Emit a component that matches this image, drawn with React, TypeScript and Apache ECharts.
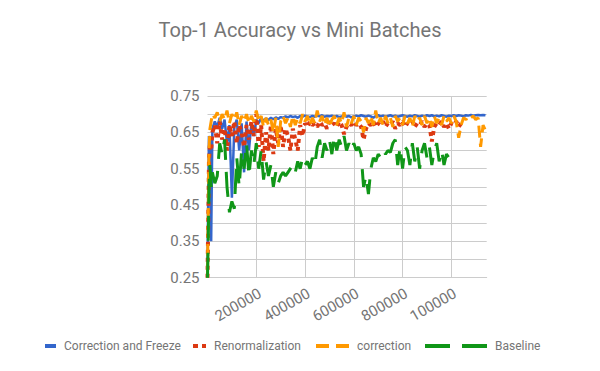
import React, { useEffect, useRef } from "react";
import * as echarts from "echarts";

const titleText = "Top-1 Accuracy vs Mini Batches";
const seriesNames = ["Correction and Freeze", "Renormalization", "correction", "Baseline"];
const seriesColors = ["#3366cc", "#dc3912", "#ff9900", "#109618"];

// mini batches, in thousands
const stepsK = [0, 3, 6, 10, 15, 20,
  30, 40, 50, 60, 70, 80, 90, 100, 110, 120, 130, 140, 150, 160, 170, 180, 190, 200,
  210, 220, 230, 240, 250, 260, 270, 280, 290, 300,
  310, 320, 330, 340, 350, 360, 370, 380, 390, 400,
  410, 420, 430, 440, 450, 460, 470, 480, 490, 500,
  510, 520, 530, 540, 550, 560, 570, 580, 590, 600,
  610, 620, 630, 640, 650, 660, 670, 680, 690, 700,
  710, 720, 730, 740, 750, 760, 770, 780, 790, 800,
  810, 820, 830, 840, 850, 860, 870, 880, 890, 900,
  910, 920, 930, 940, 950, 960, 970, 980, 990, 1000,
  1010, 1020, 1030, 1040, 1050, 1060, 1070, 1080, 1090, 1100,
  1110, 1120, 1130, 1140];

const correctionFreeze = [0.27, 0.48, 0.64, 0.63, 0.35, 0.66,
  0.68, 0.665, 0.69, 0.66, 0.685, 0.62, 0.67, 0.47, 0.665, 0.685, 0.6, 0.675, 0.54, 0.68, 0.6, 0.675, 0.64, 0.685,
  0.675, 0.69, 0.682, 0.688, 0.684, 0.69, 0.686, 0.691, 0.687, 0.692,
  0.69, 0.694, 0.691, 0.695, 0.692, 0.694, 0.69, 0.695, 0.693, 0.696,
  0.694, 0.692, 0.695, 0.693, 0.696, 0.694, 0.697, 0.693, 0.695, 0.694,
  0.696, 0.693, 0.695, 0.692, 0.694, 0.696, 0.693, 0.695, 0.691, 0.694,
  0.696, 0.694, 0.697, 0.695, 0.693, 0.696, 0.694, 0.69, 0.695, 0.697,
  0.694, 0.696, 0.693, 0.695, 0.697, 0.694, 0.696, 0.693, 0.695, 0.697,
  0.695, 0.693, 0.696, 0.694, 0.697, 0.695, 0.693, 0.696, 0.694, 0.697,
  0.695, 0.697, 0.694, 0.696, 0.694, 0.697, 0.695, 0.693, 0.696, 0.695,
  0.697, 0.695, 0.697, 0.696, 0.694, 0.697, 0.696, 0.698, 0.696, 0.697,
  0.698, 0.697, 0.698, 0.697];

const renormalization = [0.25, 0.4, 0.57, 0.62, 0.6, 0.65,
  0.67, 0.62, 0.68, 0.63, 0.66, 0.6, 0.67, 0.64, 0.68, 0.62, 0.67, 0.65, 0.61, 0.67, 0.63, 0.68, 0.64, 0.7,
  0.61, 0.67, 0.57, 0.65, 0.6, 0.67, 0.59, 0.66, 0.62, 0.67,
  0.61, 0.66, 0.64, 0.6, 0.66, 0.63, 0.6, 0.67, 0.64, 0.675,
  0.665, 0.68, 0.67, 0.675, 0.665, 0.68, 0.67, 0.675, 0.66, 0.68,
  0.67, 0.675, 0.665, 0.68, 0.67, 0.645, 0.665, 0.675, 0.67, 0.68,
  0.67, 0.675, 0.665, 0.63, 0.66, 0.675, 0.67, 0.68, 0.665, 0.675,
  0.67, 0.68, 0.665, 0.675, 0.67, 0.68, 0.66, 0.675, 0.67, 0.68,
  0.665, 0.675, 0.67, 0.68, 0.665, 0.675, 0.67, 0.68, 0.665, 0.675,
  0.67, 0.625, 0.665, 0.675, 0.67, 0.68, 0.665, 0.675, 0.66, 0.675,
  0.67, 0.68, 0.665, 0.675, null, null, null, null, null, null,
  null, null, null, null];

const correction = [0.26, 0.44, 0.6, 0.66, 0.68, 0.7,
  0.69, 0.705, 0.68, 0.7, 0.685, 0.71, 0.675, 0.7, 0.685, 0.705, 0.67, 0.695, 0.68, 0.7, 0.675, 0.695, 0.68, 0.71,
  0.68, 0.695, 0.665, 0.69, 0.67, 0.685, 0.65, 0.69, 0.61, 0.68,
  0.695, 0.675, 0.69, 0.665, 0.695, 0.67, 0.69, 0.675, 0.7, 0.68,
  0.695, 0.67, 0.69, 0.675, 0.71, 0.68, 0.695, 0.67, 0.69, 0.665,
  0.685, 0.695, 0.67, 0.69, 0.675, 0.705, 0.665, 0.69, 0.675, 0.695,
  0.67, 0.69, 0.68, 0.65, 0.69, 0.675, 0.695, 0.67, 0.71, 0.675,
  0.69, 0.67, 0.695, 0.675, 0.69, 0.665, 0.695, 0.68, 0.69, 0.67,
  0.695, 0.675, 0.69, 0.665, 0.695, 0.68, 0.69, 0.67, 0.695, 0.675,
  0.69, 0.665, 0.695, 0.675, 0.69, 0.67, 0.695, 0.68, 0.69, 0.675,
  0.695, 0.68, 0.635, 0.67, 0.69, 0.685, 0.695, 0.69, 0.695, 0.685,
  0.69, 0.61, 0.67, 0.655];

const baseline = [0.25, 0.35, 0.5, 0.56, 0.5, 0.54,
  0.51, 0.53, 0.62, 0.59, 0.63, 0.5, 0.43, 0.46, 0.44, 0.58, 0.5, 0.6, 0.55, 0.62, 0.53, 0.6, 0.56, 0.62,
  0.55, 0.6, 0.52, 0.57, 0.53, 0.56, 0.5, 0.54, 0.51, 0.53,
  0.54, 0.53, 0.54, 0.55, 0.56, 0.54, 0.57, 0.55, 0.58, 0.56,
  0.57, 0.55, 0.58, 0.56, 0.61, 0.63, 0.58, 0.62, 0.6, 0.63,
  0.59, 0.64, 0.6, 0.63, 0.61, 0.64, 0.6, 0.62, 0.6, 0.62,
  0.6, 0.61, 0.59, 0.5, 0.53, 0.48, 0.55, 0.58, 0.57, 0.59,
  0.58, 0.6, 0.59, 0.6, 0.595, 0.62, 0.63, 0.56, 0.61, 0.55,
  0.61, 0.6, 0.56, 0.62, 0.57, 0.61, 0.55, 0.6, 0.62, 0.58,
  0.61, 0.56, 0.6, 0.62, 0.57, 0.6, 0.56, 0.59, 0.58, 0.59,
  0.58, null, null, null, null, null, null, null, null, null,
  null, null, null, null];

const yTickLabels = ["0.25", "0.35", "0.45", "0.55", "0.65", "0.75"];
const xTickValues = [200000, 400000, 600000, 800000, 1000000];
const xTickLabels = ["200000", "400000", "600000", "800000", "100000"];

const toPairs = (vals: (number | null)[]) =>
  stepsK.map((k, i) => [k * 1000, vals[i]]).filter((p) => p[1] !== null);

const FONT = "Roboto";
const GREY = "#757575";

export default function App() {
  const ref = useRef<HTMLDivElement>(null);
  useEffect(() => {
    if (!ref.current) return;
    const chart = echarts.init(ref.current, undefined, { renderer: "svg" });
    const values = [correctionFreeze, renormalization, correction, baseline];
    const lineStyles: any[] = [
      { width: 2.5, type: "solid" },
      { width: 4, type: [4, 4] },
      { width: 3, type: [12, 6] },
      { width: 3, type: [25, 12] },
    ];
    const legendIcons = [
      "path://M0 0H11V4H0Z",
      "path://M0 0H5V4H0Z M9 0H13V4H9Z",
      "path://M0 0H13V4H0Z M20 0H33V4H20Z",
      "path://M0 0H25V4H0Z M37 0H62V4H37Z",
    ];
    const legendLeft = [45, 193, 316, 425];
    const legendWidth = [11, 13, 33, 62];
    chart.setOption({
      animation: false,
      backgroundColor: "#ffffff",
      title: {
        text: titleText,
        left: "center",
        top: 20,
        padding: 0,
        textStyle: { fontFamily: FONT, fontSize: 20, fontWeight: "normal", color: GREY },
      },
      legend: seriesNames.map((name, i) => ({
        data: [{ name, icon: legendIcons[i] }],
        left: legendLeft[i],
        top: 340,
        padding: 0,
        itemWidth: legendWidth[i],
        itemHeight: 4,
        itemStyle: { borderWidth: 0 },
        textStyle: { fontFamily: FONT, fontSize: 12, color: GREY, padding: [0, 0, 0, 3] },
        selectedMode: false,
      })),
      grid: { left: 207.5, right: 113.3, top: 96, bottom: 93.3, containLabel: false },
      xAxis: {
        type: "value",
        min: 0,
        max: 1145000,
        interval: 200000,
        axisLine: { show: true, lineStyle: { color: "#cccccc", width: 1 } },
        axisTick: { show: false },
        splitLine: { show: true, showMinLine: false, showMaxLine: false, lineStyle: { color: "#cccccc", width: 1 } },
        axisLabel: {
          rotate: 30,
          align: "right",
          verticalAlign: "top",
          margin: 8,
          fontFamily: FONT,
          fontSize: 15,
          color: GREY,
          showMaxLabel: false,
          formatter: (v: number) => {
            const idx = xTickValues.indexOf(Math.round(v));
            return idx >= 0 ? xTickLabels[idx] : "";
          },
        },
      },
      yAxis: {
        type: "value",
        min: 0.25,
        max: 0.75,
        interval: 0.05,
        axisLine: { show: false },
        axisTick: { show: false },
        splitLine: { show: true, lineStyle: { color: "#cccccc", width: 1 } },
        axisLabel: {
          margin: 8,
          fontFamily: FONT,
          fontSize: 15,
          color: GREY,
          formatter: (v: number) => {
            const s = v.toFixed(2);
            return yTickLabels.indexOf(s) >= 0 ? s : "";
          },
        },
      },
      series: seriesNames.map((name, i) => ({
        name,
        type: "line",
        data: toPairs(values[i]),
        showSymbol: false,
        symbol: "none",
        color: seriesColors[i],
        lineStyle: { color: seriesColors[i], ...lineStyles[i] },
        connectNulls: false,
      })),
    });
    return () => chart.dispose();
  }, []);
  return (
    <div
      ref={ref}
      style={{ position: "fixed", left: 0, top: 0, width: 600, height: 371, background: "#fff" }}
    />
  );
}
